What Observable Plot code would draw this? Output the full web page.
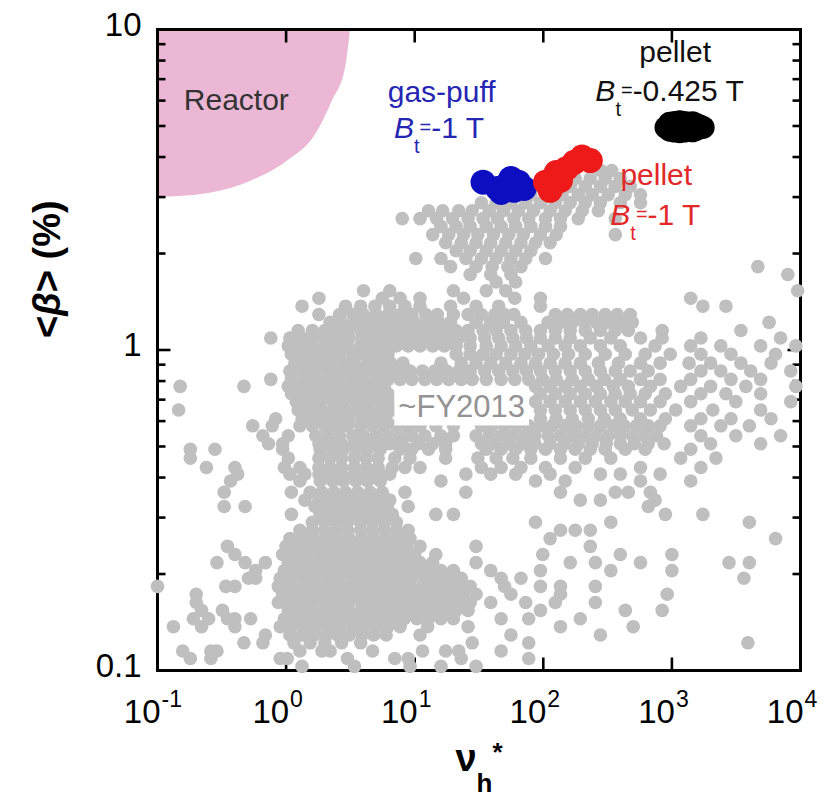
<!DOCTYPE html>
<html><head><meta charset="utf-8">
<script src="https://cdn.jsdelivr.net/npm/d3@7"></script>
<script src="https://cdn.jsdelivr.net/npm/@observablehq/plot@0.6"></script>
<style>html,body{margin:0;padding:0;background:#fff;} svg{display:block}</style>
</head><body>
<div id="chart"></div>
<script>
// ---- data ----
const xTickValues = [0.1, 1, 10, 100, 1000, 10000];
const xTickExponents = ["-1", "0", "1", "2", "3", "4"];
const xInnerTicks = [1, 10, 100, 1000];
const yTickValues = [0.1, 1, 10];
const yTickLabels = ["0.1", "1", "10"];
const yMinorTicks = [0.2, 0.3, 0.4, 0.5, 0.6, 0.7, 0.8, 0.9, 2, 3, 4, 5, 6, 7, 8, 9];
const yMajorInner = [1];

const reactorNu = [0.1, 0.25, 0.55, 1.04, 1.7, 2.3, 2.9, 3.17];
const reactorBeta = [2.99, 3.08, 3.38, 3.9, 4.7, 6.0, 7.6, 10];

const blueNu = [34, 44, 51, 59, 64, 71, 56, 47];
const blueBeta = [3.34, 3.19, 3.26, 3.15, 3.34, 3.19, 3.43, 3.10];
const redNu = [104, 113, 126, 151, 174, 200, 232, 136];
const redBeta = [3.34, 3.15, 3.58, 3.68, 3.85, 4.0, 3.9, 3.38];
const blackNu = [900, 960, 960, 1050, 1050, 1150, 1150, 1250, 1250, 1350, 1350, 1450, 1450, 1550, 1550, 1650, 1750, 1200, 1000, 1400];
const blackBeta = [4.95, 5.1, 4.85, 5.13, 4.82, 5.15, 4.8, 5.13, 4.82, 5.1, 4.85, 5.12, 4.83, 5.05, 4.88, 5.0, 4.95, 4.97, 4.97, 4.97];

const grayRowBeta = [3.63,3.43,3.24,3.05,2.88,2.72,2.57,2.43,2.29,2.16,2.04,1.93,1.82,1.72,1.63,1.53,1.45,1.37,1.29,1.22,1.15,1.09,1.03,0.97,0.91,0.86,0.81,0.77,0.73,0.69,0.65,0.61,0.58,0.54,0.51,0.49,0.46,0.43,0.41,0.39,0.36,0.34,0.325,0.307,0.29,0.274,0.258,0.244,0.23,0.217,0.205,0.194,0.183,0.173,0.163,0.154,0.145,0.137,0.129,0.122,0.115,0.109,0.103];
const grayRowNu = [
[280,340],
[136,177,232,303,397],
[95,124,162,212,278,363,474],
[80,109,140,187,240,320,434,570],
[33,43,56,73,95,124,162,212,278,397,570],
[12.8,16.5,22,28,38,49,64,84,113,148,201,268],
[8,11,14.8,19.7,26,34,44,59,77,104,136,187,363],
[16,21,27,36,47,61,80,104,136],
[13.8,18.4,24,31,41,54,70,95,126,363],
[17.4,23,30,39,51,67,87,113],
[21,27,36,47,61,80],
[10.2,16,25,33,43,56,73,104],
[19,30,40,53,67,4660],
[27,39,56,7970],
[43,61],
[4,6.4,20,36,51,9500],
[1.8,5.6,7.7,11,24,60,95,1400],
[1.33,2.9,3.8,4.9,6.4,8.4,11,19,30,45,95,1740,2630],
[1.8,2.6,3.3,4,5,6.2,7.7,9.5,12.2,15,20,26,33,42,50,59,124,154,194,240,303,376,474],
[2.2,2.7,3.4,4.2,5.2,6.4,8,10,12.4,15.4,19,30,39,49,67,109,136,168,208,258,320,397,492,5700],
[1.24,1.6,2,2.45,3,3.8,4.7,5.8,7.2,8.9,11,13.8,17,21,26,34,43,56,73,95,124,162,212,278,363,458,840,3440],
[0.76,1.07,1.33,1.65,2.05,2.5,3.1,3.9,4.8,6,7.4,9.2,11.5,14.3,17.7,22,27,35,45,58,74,95,124,162,232,335,570,840,1680,7000],
[1.04,1.28,1.6,2,2.45,3,3.8,4.7,5.8,7.2,8.9,11,13.8,17,21,27,36,47,61,80,109,148,194,278,397,740,1400,2400,4900,9200],
[1.1,1.38,1.7,2.1,2.6,3.3,4,5,6.2,21,27,34,43,56,72,92,120,157,212,303,434,620,970,1680,2880,6400],
[1.17,1.46,1.8,2.24,2.8,3.4,4.3,5.3,6.5,8.1,16,23,30,39,51,67,87,113,148,194,268,384,570,810,1360,2000,3440,5900],
[1.07,1.33,1.65,2.05,2.5,3.1,3.9,4.8,6,7.4,9.2,11.5,14.3,17.7,22,27,35,45,58,74,95,124,162,212,278,363,474,655,1680,2400,4100,8400],
[0.76,1.1,1.38,1.7,2.1,2.6,3.3,4,5,6.2,7.7,9.5,12,14.8,18.4,23,28,36,47,60,77,99,126,168,224,298,397,570,810,1400,2880,4900],
[0.15,0.47,1.04,1.28,1.6,2,2.45,3,3.8,4.7,5.8,87,113,148,194,258,350,458,680,1170,2000,3760,9200],
[1.1,1.38,1.7,2.1,2.6,3.3,4,5,6.2,95,124,162,212,278,363,474,620,890,1680,2630,4900],
[1.2,1.48,1.84,2.3,2.8,3.5,4.3,5.4,6.7,87,113,148,194,254,335,434,570,810,1400,3140,8400],
[0.146,1.24,1.54,1.9,2.36,2.9,3.6,4.5,5.6,6.9,95,124,162,212,278,363,492,680,1070,2080,4900],
[0.83,1.33,1.65,2.05,2.5,3.1,3.9,4.8,6,95,126,168,224,298,397,570,890,1680,2880,5900],
[0.55,0.78,1.28,1.6,2,2.45,3,3.8,4.7,5.8,7.2,8.9,11,14.6,20,33,40,50,62,77,95,117,146,180,224,278,350,426,530,655,810,1400,2400,4000],
[0.66,1.04,1.7,2.1,2.6,3.3,4,5,6.2,7.7,9.5,12,16,20,30,38,47,58,72,86,109,136,168,208,258,320,397,492,610,760,1680,3140,7000],
[0.73,0.94,1.8,2.2,2.7,3.4,4.2,5.2,6.4,8,10.7,13.8,17.4,33,42,54,69,86,113,146,187,240,309,397,510,655,870,2000,4900],
[0.18,0.28,0.94,1.84,2.3,2.8,3.5,4.3,5.4,7.7,9.5,12.8,17.4,36,47,61,80,104,136,177,232,303,434,620,1400],
[0.18,1.04,1.8,2.2,2.7,3.4,4.2,5.2,7,9.2,17.4,31,43,58,80,136,212,335,1170,2200],
[0.24,0.4,0.97,1.28,1.8,2.2,2.7,3.4,4.2,5.2,6.7,8.4,11,33,47,67,104,177,570,1680],
[0.42,1.07,1.4,1.8,2.2,2.7,3.4,4.2,5.2,6.4,25,39,61,113,278,397,810],
[0.37,1.28,1.84,2.3,2.8,3.5,4.3,5.4,16,87,148,570,1400],
[0.33,1.1,1.54,1.9,2.36,2.9,3.6,4.5,5.6,8.4,25,136,363,458,680],
[1.4,1.8,2.2,2.7,3.4,4.2,5.2,6.4,194,278,740],
[0.33,0.48,1.68,2.1,2.6,3.2,4,4.9,6.1,8.9,655],
[1.1,1.84,2.3,2.8,3.5,4.3,5.4,6.7,14.6,20,890,1740],
[1.6,2,2.45,3,3.8,4.7,5.8,7.2,87,335,4000],
[1.28,1.6,2,2.45,3,3.8,4.7,5.8,7.2,8.9,136,177,232],
[1.07,1.33,1.65,2.05,2.5,3.1,3.9,4.8,6,7.4,9.2,113,6400],
[0.35,1,1.24,1.54,1.9,2.36,2.9,3.6,4.5,5.6,6.9,8.6,11,30,232],
[0.4,0.94,1.15,1.43,1.8,2.2,2.7,3.4,4.2,5.2,6.4,8,10,14.6,99,397,1000],
[0.29,0.48,0.69,1.04,1.28,1.6,2,2.45,3,3.8,4.7,5.8,7.2,8.9,11,13.8,30,162,254,570,2780,4000],
[0.58,0.97,1.2,1.48,1.84,2.3,2.8,3.5,4.3,5.4,6.7,8.3,10.4,12.8,16,20,39,95,335,1000],
[0.51,0.58,0.9,1.1,1.38,1.7,2.1,2.6,3.3,4,5,6.2,7.7,9.5,12,14.8,18.4,23,47,67,3630],
[0.1,0.34,0.4,0.87,1.07,1.33,1.65,2.05,2.5,3.1,3.9,4.8,6,7.4,9.2,11.5,14.3,17.7,22,27,50,95,136,254],
[0.2,0.94,1.15,1.43,1.8,2.2,2.7,3.4,4.2,5.2,6.4,8,10,12.4,15.4,19,23.6,30,56,136,920],
[0.2,0.87,1.07,1.33,1.65,2.05,2.5,3.1,3.9,4.8,6,7.4,9.2,11.5,14.3,17.7,22,27,39,73,124,254],
[0.22,0.32,1.04,1.28,1.6,2,2.45,3,3.8,4.7,5.8,7.2,8.9,11,13.8,17,21,26,95,434,840],
[0.19,0.25,0.35,0.4,0.53,0.97,1.2,1.48,1.84,2.3,2.8,3.5,4.3,5.4,6.7,8.3,10.4,12.8,16,20,47,77,194],
[0.133,0.22,0.4,0.9,1.1,1.38,1.7,2.1,2.6,3.3,4,5,6.2,7.7,12.6,26,136,500],
[0.69,1.07,1.33,1.65,2.05,2.5,3.1,3.9,4.8,6,11,56,278],
[0.47,0.66,1.15,1.54,2,2.7,3.8,28,77,3900],
[0.157,0.26,0.29,1.28,1.9,2.2,4.7,11.5,17.4,22,47],
[0.18,0.26,0.9,1.02,3,7,8.9,23,77],
[1.33,3.4,9.2,16,30]
];

const noteText = ["Reactor", "gas-puff", "B_t=-1 T", "pellet", "B_t=-0.425 T", "pellet", "B_t=-1 T", "~FY2013"];
const noteNu = [0.41, 16.2, 6.9, 1060, 254, 756, 332, 23.2];
const noteBeta = [5.59, 5.96, 4.60, 7.94, 6.0, 3.28, 2.45, 0.616];

const xLabel = "ν_h*";
const yLabel = "<β> (%)";

// ---- tables built from arrays ----
const gray = grayRowNu.flatMap((row, i) => row.map(nu => ({nu, beta: grayRowBeta[i]})));
const pts = (nus, betas) => nus.map((nu, i) => ({nu, beta: betas[i]}));
const reactor = pts(reactorNu, reactorBeta);
const blue = pts(blueNu, blueBeta);
const red = pts(redNu, redBeta);
const black = pts(blackNu, blackBeta);

const BLUE = "#0d0dc2", RED = "#ee1a1a", TBLUE = "#2626b4", TRED = "#e22828";
const tickShape = {draw(ctx, l) { ctx.moveTo(0, 0); ctx.lineTo(0, -l); }};
const tickOpts = {shape: tickShape, anchor: "start", stroke: "#000", strokeWidth: 2.6, strokeLinecap: "butt"};
const note = (idx, opts) => Plot.text(idx, {x: i => noteNu[i], y: i => noteBeta[i], text: i => noteText[i], lineAnchor: "bottom", fontSize: 30, ...opts});

const svg = Plot.plot({
  width: 839, height: 799,
  marginLeft: 157, marginRight: 39, marginTop: 29, marginBottom: 129,
  x: {type: "log", domain: [0.1, 10000], axis: null},
  y: {type: "log", domain: [0.1, 10], axis: null},
  style: {fontFamily: "'Liberation Sans', Arial, Helvetica, sans-serif", background: "#fff", color: "#000"},
  marks: [
    Plot.areaY(reactor, {x: "nu", y1: "beta", y2: () => 10, fill: "#ebb7d5", curve: "monotone-x"}),
    Plot.frame({stroke: "#000", strokeWidth: 3}),
    // inward ticks
    Plot.vector(xInnerTicks, {x: d => d, frameAnchor: "bottom", rotate: 0, length: 13, ...tickOpts}),
    Plot.vector(xInnerTicks, {x: d => d, frameAnchor: "top", rotate: 180, length: 13, ...tickOpts}),
    Plot.vector(yMajorInner, {y: d => d, frameAnchor: "left", rotate: 90, length: 13, ...tickOpts}),
    Plot.vector(yMajorInner, {y: d => d, frameAnchor: "right", rotate: -90, length: 13, ...tickOpts}),
    Plot.vector(yMinorTicks, {y: d => d, frameAnchor: "left", rotate: 90, length: 8, ...tickOpts}),
    Plot.vector(yMinorTicks, {y: d => d, frameAnchor: "right", rotate: -90, length: 8, ...tickOpts}),
    // data
    Plot.dot(gray, {x: "nu", y: "beta", r: 6.8, fill: "#bfbfbf"}),
    note([7], {fill: "#939393", fontSize: 31}),
    Plot.dot(blue, {x: "nu", y: "beta", r: 12.5, fill: BLUE}),
    Plot.dot(red, {x: "nu", y: "beta", r: 12.5, fill: RED}),
    Plot.dot(black, {x: "nu", y: "beta", r: 11.5, fill: "#000"}),
    // annotations
    note([0], {fill: "#333"}),
    note([3], {fill: "#111"}),
    note([4], {fill: "#111", textAnchor: "start"}),
    note([1], {fill: TBLUE}),
    note([2], {fill: TBLUE, textAnchor: "start"}),
    note([5], {fill: TRED}),
    note([6], {fill: TRED, textAnchor: "start"}),
    // tick labels
    Plot.text(xTickValues, {x: d => d, frameAnchor: "bottom", text: () => "10", textAnchor: "end", dx: 3, dy: 52, lineAnchor: "bottom", fontSize: 33, fill: "#000"}),
    Plot.text(xTickValues, {x: d => d, frameAnchor: "bottom", text: (d, i) => xTickExponents[i], textAnchor: "start", dx: 4, dy: 36, lineAnchor: "bottom", fontSize: 23, fill: "#000"}),
    Plot.text(yTickValues, {y: d => d, frameAnchor: "left", text: (d, i) => yTickLabels[i], textAnchor: "end", dx: -16, dy: 6, lineAnchor: "bottom", fontSize: 33, fill: "#000"}),
    // axis labels
    Plot.text([xLabel], {text: d => d, frameAnchor: "bottom", dy: 100, lineAnchor: "bottom", fontSize: 38, fontWeight: "bold", fill: "#000"}),
    Plot.text([yLabel], {text: d => d, frameAnchor: "left", rotate: -90, dx: -98, dy: -12, lineAnchor: "bottom", fontSize: 38, fontWeight: "bold", fill: "#000"})
  ]
});

// ---- rich text (sub/superscripts, italics) ----
const NS = "http://www.w3.org/2000/svg";
function enrich(content, parts) {
  svg.querySelectorAll("text").forEach(t => {
    if (t.textContent !== content) return;
    t.textContent = "";
    parts.forEach(p => {
      const s = document.createElementNS(NS, "tspan");
      s.textContent = p.t;
      if (p.size) s.setAttribute("font-size", p.size);
      if (p.dy) s.setAttribute("dy", p.dy);
      if (p.italic) s.setAttribute("font-style", "italic");
      t.appendChild(s);
    });
  });
}
enrich("B_t=-1 T", [{t: "B", italic: true}, {t: "t", size: 20, dy: 15}, {t: "=", size: 20, dy: -19}, {t: "-1 T", dy: 4}]);
enrich("B_t=-0.425 T", [{t: "B", italic: true}, {t: "t", size: 20, dy: 15}, {t: "=", size: 20, dy: -19}, {t: "-0.425 T", dy: 4}]);
enrich(xLabel, [{t: "ν"}, {t: "h", size: 26, dy: 21}, {t: "*", size: 26, dy: -31}]);
enrich(yLabel, [{t: "<"}, {t: "β", italic: true}, {t: "> (%)"}]);

document.getElementById("chart").appendChild(svg);

// white box behind the ~FY2013 label
const fy = [...svg.querySelectorAll("text")].find(t => t.textContent === "~FY2013");
if (fy) {
  const bb = fy.getBBox();
  const rect = document.createElementNS(NS, "rect");
  rect.setAttribute("x", bb.x - 4);
  rect.setAttribute("y", bb.y - 1);
  rect.setAttribute("width", bb.width + 8);
  rect.setAttribute("height", bb.height + 2);
  rect.setAttribute("fill", "#fff");
  const tr = fy.getAttribute("transform");
  if (tr) rect.setAttribute("transform", tr);
  fy.parentNode.insertBefore(rect, fy);
}
</script>
</body></html>
